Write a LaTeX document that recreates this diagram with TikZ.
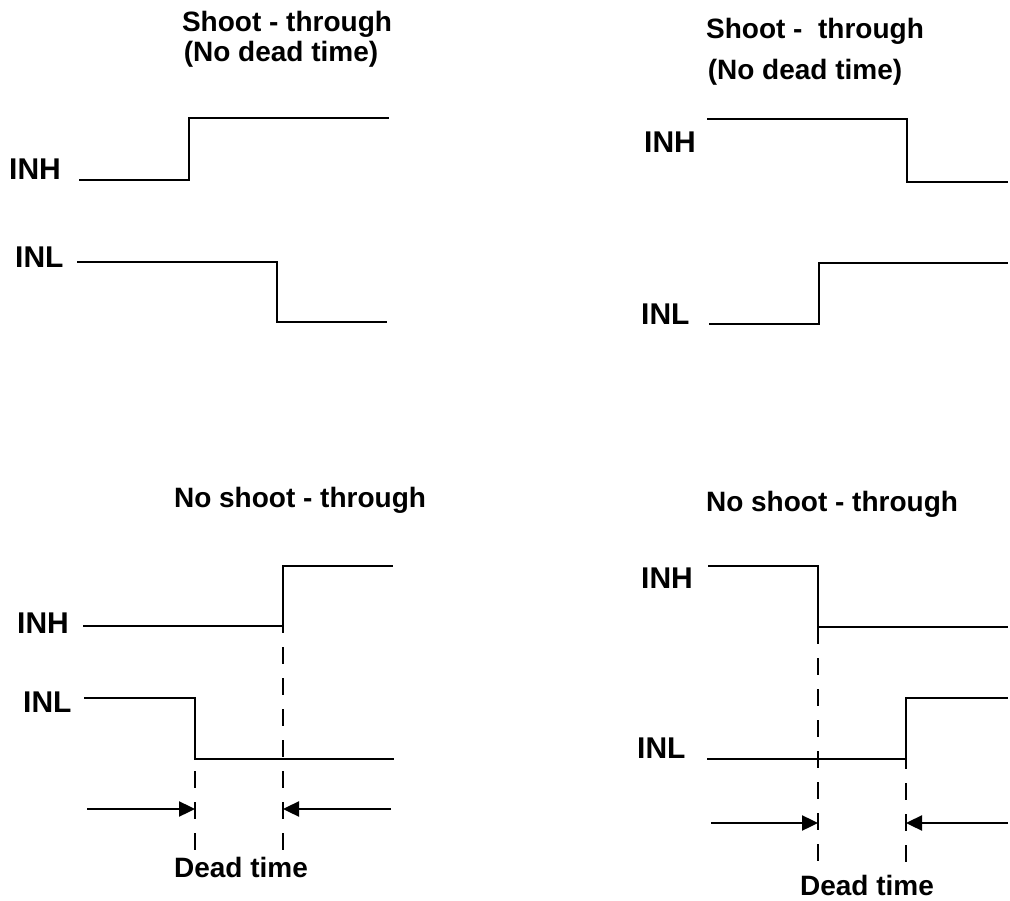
\documentclass[tikz,border=0pt]{standalone}
\usepackage{fontspec}
\setmainfont{Liberation Sans}
\usetikzlibrary{arrows.meta}

\begin{document}
\begin{tikzpicture}[x=1pt,y=-1pt,>={Triangle[length=16pt,width=15pt]},
    wave/.style={line width=2.6pt},
    deadline/.style={line width=2.3pt,dash pattern=on 17pt off 14pt},
    span/.style={line width=2.4pt,->},
    lbl/.style={font=\fontsize{30}{36}\selectfont\bfseries,anchor=base west,inner sep=0pt},
    ttl/.style={font=\fontsize{28}{34}\selectfont\bfseries,anchor=base,inner sep=0pt}]
  \useasboundingbox (0,0) rectangle (1010,901);

  % shoot-through, INH rising
  \node[ttl] (t1a) at (287,32) {Shoot - through};
  \node[ttl] (t1b) at (281,62) {(No dead time)};
  \node[lbl] (h1) at (9,180)  {INH};
  \node[lbl] (l1) at (15,268) {INL};
  \draw[wave] (79,180) -- (189,180) -- (189,118) -- (389,118);
  \draw[wave] (77,262) -- (277,262) -- (277,322) -- (387,322);

  % shoot-through, INH falling
  \node[ttl] (t2a) at (815,39) {Shoot -\ \ through};
  \node[ttl] (t2b) at (805,80) {(No dead time)};
  \node[lbl] (h2) at (644,153) {INH};
  \node[lbl] (l2) at (641,325) {INL};
  \draw[wave] (707,119) -- (907,119) -- (907,182) -- (1008,182);
  \draw[wave] (709,324) -- (819,324) -- (819,263) -- (1008,263);

  % no shoot-through, INH rising
  \node[ttl] (t3) at (300,507) {No shoot - through};
  \node[lbl] (h3) at (17,633) {INH};
  \node[lbl] (l3) at (23,712) {INL};
  \coordinate (h3e) at (283,626);
  \coordinate (l3e) at (195,759);
  \draw[wave] (83,626) -- (h3e) -- (283,566) -- (393,566);
  \draw[wave] (84,698) -- (195,698) -- (l3e) -- (394,759);
  \coordinate (h3b) at (283,850);
  \coordinate (l3b) at (195,850);
  \draw[deadline,dash phase=19pt] (l3e) -- (l3b);
  \draw[deadline,dash phase=10pt] (h3e) -- (h3b);
  \coordinate (a3l) at (87,809);
  \coordinate (a3r) at (391,809);
  \draw[span] (a3l) -- (l3e |- a3l);
  \draw[span] (a3r) -- (h3e |- a3r);
  \node[ttl] (d3) at (241,877) {Dead time};

  % no shoot-through, INH falling
  \node[ttl] (t4) at (832,511) {No shoot - through};
  \node[lbl] (h4) at (641,588) {INH};
  \node[lbl] (l4) at (637,758) {INL};
  \coordinate (h4e) at (818,627);
  \coordinate (l4e) at (906,759);
  \draw[wave] (708,566) -- (818,566) -- (h4e) -- (1008,627);
  \draw[wave] (707,759) -- (l4e) -- (906,698) -- (1008,698);
  \coordinate (h4b) at (818,862);
  \coordinate (l4b) at (906,862);
  \draw[deadline] (h4e) -- (h4b);
  \draw[deadline,dash phase=7pt] (l4e) -- (l4b);
  \coordinate (a4l) at (711,823);
  \coordinate (a4r) at (1008,823);
  \draw[span] (a4l) -- (h4e |- a4l);
  \draw[span] (a4r) -- (l4e |- a4r);
  \node[ttl] (d4) at (867,895) {Dead time};
\end{tikzpicture}
\end{document}
